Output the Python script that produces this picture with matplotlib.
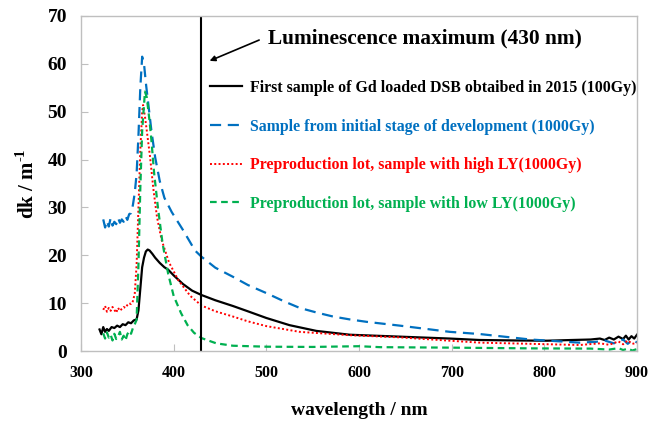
import numpy as np
import matplotlib
matplotlib.use("Agg")
import matplotlib.pyplot as plt

plt.rcParams['font.family'] = ['Liberation Serif', 'DejaVu Serif']
plt.rcParams['font.weight'] = 'bold'
plt.rcParams['mathtext.fontset'] = 'custom'
plt.rcParams['mathtext.rm'] = 'Liberation Serif:bold'
plt.rcParams['mathtext.bf'] = 'Liberation Serif:bold'

# ---------------------------------------------------------------- data
wl_black = [320, 322, 324, 326, 328, 330, 333, 336, 339, 342, 345, 348, 351, 354, 357, 360,
            362, 364, 366, 368, 370, 372, 374, 377, 380, 385, 390, 394, 400, 410, 420, 430,
            445, 464, 480, 500, 525, 554, 590, 644, 698, 730, 770, 803, 830, 850, 860, 865,
            870, 875, 880, 885, 888, 891, 894, 897, 900]
dk_black = [4.5, 3.5, 5.0, 4.0, 4.6, 4.2, 5.0, 4.8, 5.3, 5.0, 5.6, 5.4, 6.0, 5.8, 6.4, 6.6,
            8.5, 13.0, 17.5, 19.5, 20.8, 21.2, 21.0, 20.3, 19.5, 18.4, 17.5, 17.0, 15.8, 14.0, 12.6, 11.7,
            10.6, 9.4, 8.3, 6.9, 5.4, 4.2, 3.4, 3.0, 2.6, 2.3, 2.2, 2.15, 2.3, 2.4, 2.6, 2.3,
            2.8, 2.4, 3.0, 2.5, 3.2, 2.4, 3.1, 2.6, 3.4]

wl_blue = [324, 326, 328, 330, 332, 334, 336, 338, 340, 342, 344, 346, 348, 350, 352, 354,
           356, 358, 360, 362, 364, 366, 368, 370, 373, 376, 380, 385, 390, 398, 410, 423,
           430, 445, 464, 480, 500, 520, 536, 555, 572, 590, 608, 644, 698, 730, 785, 838,
           855, 865, 875, 885, 890, 895, 900]
dk_blue = [27.5, 25.8, 27.2, 26.0, 27.8, 26.2, 27.0, 26.5, 27.8, 26.8, 27.5, 27.0, 28.2, 27.4, 28.6, 28.8,
           30.5, 33.0, 37.0, 45.0, 55.0, 61.5, 60.0, 56.0, 51.0, 46.0, 40.5, 35.5, 32.0, 29.0, 25.3, 21.0,
           19.7, 17.4, 15.5, 13.8, 12.1, 10.3, 9.0, 8.0, 7.2, 6.6, 6.1, 5.3, 4.0, 3.55, 2.4, 1.75,
           1.9, 2.2, 1.6, 2.4, 1.5, 2.3, 1.8]

wl_red = [324, 326, 328, 330, 332, 334, 336, 338, 340, 342, 344, 346, 348, 350, 352, 354,
          356, 358, 360, 362, 364, 366, 367, 369, 371, 374.5, 378, 382, 387, 395, 405, 418,
          430, 445, 464, 480, 500, 536, 590, 644, 698, 730, 785, 838, 860, 870, 880, 885,
          890, 895, 900]
dk_red = [8.6, 9.4, 8.2, 9.0, 8.4, 9.2, 8.6, 8.0, 9.0, 8.4, 8.8, 9.2, 9.0, 9.6, 10.0, 9.8,
          10.4, 12.0, 18.0, 30.0, 42.0, 50.0, 51.4, 49.0, 46.0, 40.6, 34.0, 28.0, 23.2, 18.5, 14.8, 11.5,
          9.5, 8.3, 7.2, 6.2, 5.2, 4.0, 3.3, 2.85, 2.15, 1.75, 1.5, 1.25, 1.6, 1.3, 2.0, 1.4,
          2.2, 1.5, 1.7]

wl_green = [324, 326, 328, 330, 332, 334, 336, 338, 340, 342, 344, 346, 348, 350, 352, 354,
            356, 358, 360, 362, 364, 366, 369, 371, 374, 376, 379, 383, 388, 394, 400, 408,
            415, 422, 430, 446, 464, 500, 550, 600, 623, 700, 785, 850, 870, 880, 885, 890,
            895, 900]
dk_green = [3.7, 2.6, 3.9, 2.8, 3.4, 2.2, 3.6, 2.5, 3.0, 4.0, 2.4, 3.2, 2.2, 3.5, 4.2, 3.6,
            4.8, 5.6, 6.5, 18.0, 34.0, 46.0, 54.2, 53.0, 48.0, 44.0, 37.0, 30.0, 22.5, 16.2, 11.5, 7.9,
            5.4, 3.8, 2.7, 1.6, 1.1, 0.9, 0.85, 1.0, 0.8, 0.7, 0.55, 0.5, 0.3, 0.6, 0.2, 0.5,
            0.1, 0.4]

labels = ["First sample of Gd loaded DSB obtaibed in 2015 (100Gy)",
          "Sample from initial stage of development (1000Gy)",
          "Preproduction lot, sample with high LY(1000Gy)",
          "Preproduction lot, sample with low LY(1000Gy)"]
colors = ["black", "#0070C0", "#FF0000", "#00B050"]

lum_max = 430

# ---------------------------------------------------------------- plot
fig = plt.figure(figsize=(6.51, 4.21), dpi=100)
ax = fig.add_axes([81/651, 1 - 351/421, (637 - 81)/651, (351 - 16)/421])

ax.plot(wl_black, dk_black, color=colors[0], lw=1.6, label=labels[0])
ax.plot(wl_blue, dk_blue, color=colors[1], lw=1.6, dashes=(5, 3), label=labels[1])
ax.plot(wl_red, dk_red, color=colors[2], lw=1.4, dashes=(1, 1.2), label=labels[2])
ax.plot(wl_green, dk_green, color=colors[3], lw=1.6, dashes=(3, 2), label=labels[3])

ax.axvline(lum_max, color='black', lw=1.5)

ax.set_xlim(300, 900)
ax.set_ylim(0, 70)
ax.set_xticks(np.arange(300, 901, 100))
ax.set_yticks(np.arange(0, 71, 10))

for s in ax.spines.values():
    s.set_color('#BFBFBF')
    s.set_linewidth(1.0)
ax.tick_params(axis='both', direction='in', color='#BFBFBF', length=5)
ax.tick_params(axis='x', labelsize=11.5, pad=10)
ax.tick_params(axis='y', labelsize=14, pad=10)

ax.set_xlabel("wavelength / nm", fontsize=14, fontweight='bold', labelpad=15)
ax.set_ylabel("dk / m$^{\\mathrm{\u20101}}$", fontsize=15, fontweight='bold', labelpad=6)

ax.annotate("", xy=(436, 60.4), xytext=(495, 65.2),
            arrowprops=dict(arrowstyle='-|>', color='black', lw=1.2, mutation_scale=8))
ax.text(502, 65.4, "Luminescence maximum (430 nm)", fontsize=15.4, fontweight='bold',
        ha='left', va='center')

leg = ax.legend(loc='upper left', bbox_to_anchor=(210/651, 1 - 80/421),
                bbox_transform=fig.transFigure, frameon=False, fontsize=11.4,
                handlelength=2.0, handletextpad=0.55, labelspacing=1.43,
                borderpad=0, borderaxespad=0)
for t, c in zip(leg.get_texts(), colors):
    t.set_color(c)

plt.savefig("out.png", dpi=100)
